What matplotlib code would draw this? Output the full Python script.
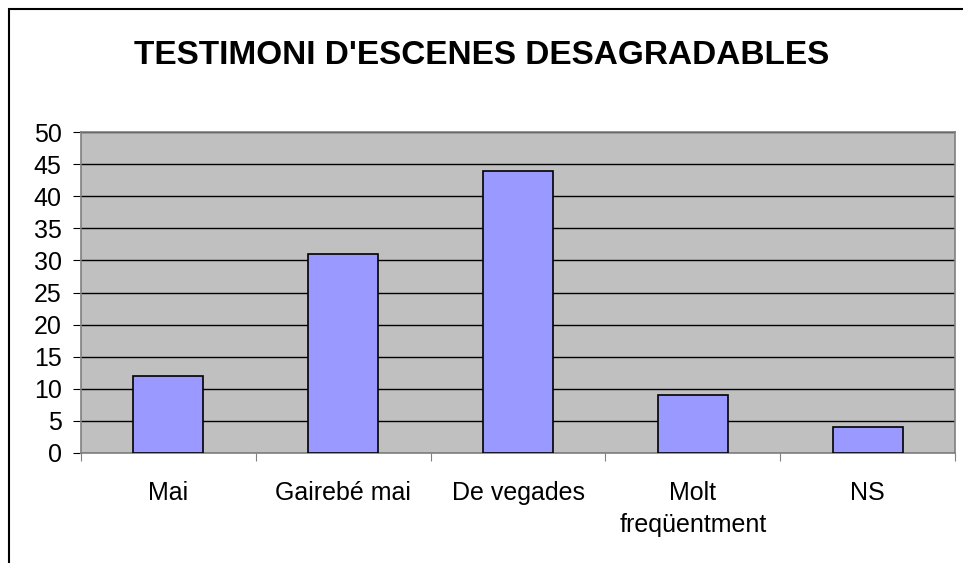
import matplotlib.pyplot as plt
from matplotlib.patches import Rectangle

categories = ["Mai", "Gairebé mai", "De vegades", "Molt\nfreqüentment", "NS"]
values = [12, 31, 44, 9, 4]
y_ticks = [0, 5, 10, 15, 20, 25, 30, 35, 40, 45, 50]

plt.rcParams['font.family'] = ['Liberation Sans', 'DejaVu Sans']

fig = plt.figure(figsize=(9.63, 5.63), dpi=100)
fig.patches.append(Rectangle((9 / 963, -0.1), 1.2, 1 - 9 / 563 + 0.1,
                             transform=fig.transFigure, fill=False,
                             edgecolor='black', linewidth=1.5))

ax = fig.add_axes([81 / 963, 1 - 453 / 563, (955 - 81) / 963, (453 - 132) / 563])
ax.set_facecolor('#c0c0c0')

x = range(len(categories))
ax.bar(x, values, width=0.4, color='#9999ff', edgecolor='black', linewidth=1.2, zorder=3)

ax.set_xlim(-0.5, len(categories) - 0.5)
ax.set_ylim(0, 50)
ax.set_yticks(y_ticks)
ax.yaxis.grid(True, color='black', linewidth=1)
ax.set_axisbelow(True)

ax.set_xticks([i + 0.5 for i in range(-1, len(categories))])
ax.set_xticklabels([])
ax.set_xticks(list(x), minor=True)
ax.set_xticklabels(categories, minor=True, fontsize=18, linespacing=1.45)
ax.tick_params(axis='x', which='major', length=6, color='#808080', direction='out')
ax.tick_params(axis='x', which='minor', length=0, pad=20)
ax.tick_params(axis='y', length=6, color='black', direction='out', labelsize=18, pad=8)

for side in ['left', 'bottom', 'top', 'right']:
    ax.spines[side].set_color('#808080')
    ax.spines[side].set_linewidth(1.2)

fig.text(482 / 963, 1 - 55 / 563, "TESTIMONI D'ESCENES DESAGRADABLES",
         ha='center', va='center', fontsize=24, fontweight='bold')

fig.savefig('out.png', dpi=100)
